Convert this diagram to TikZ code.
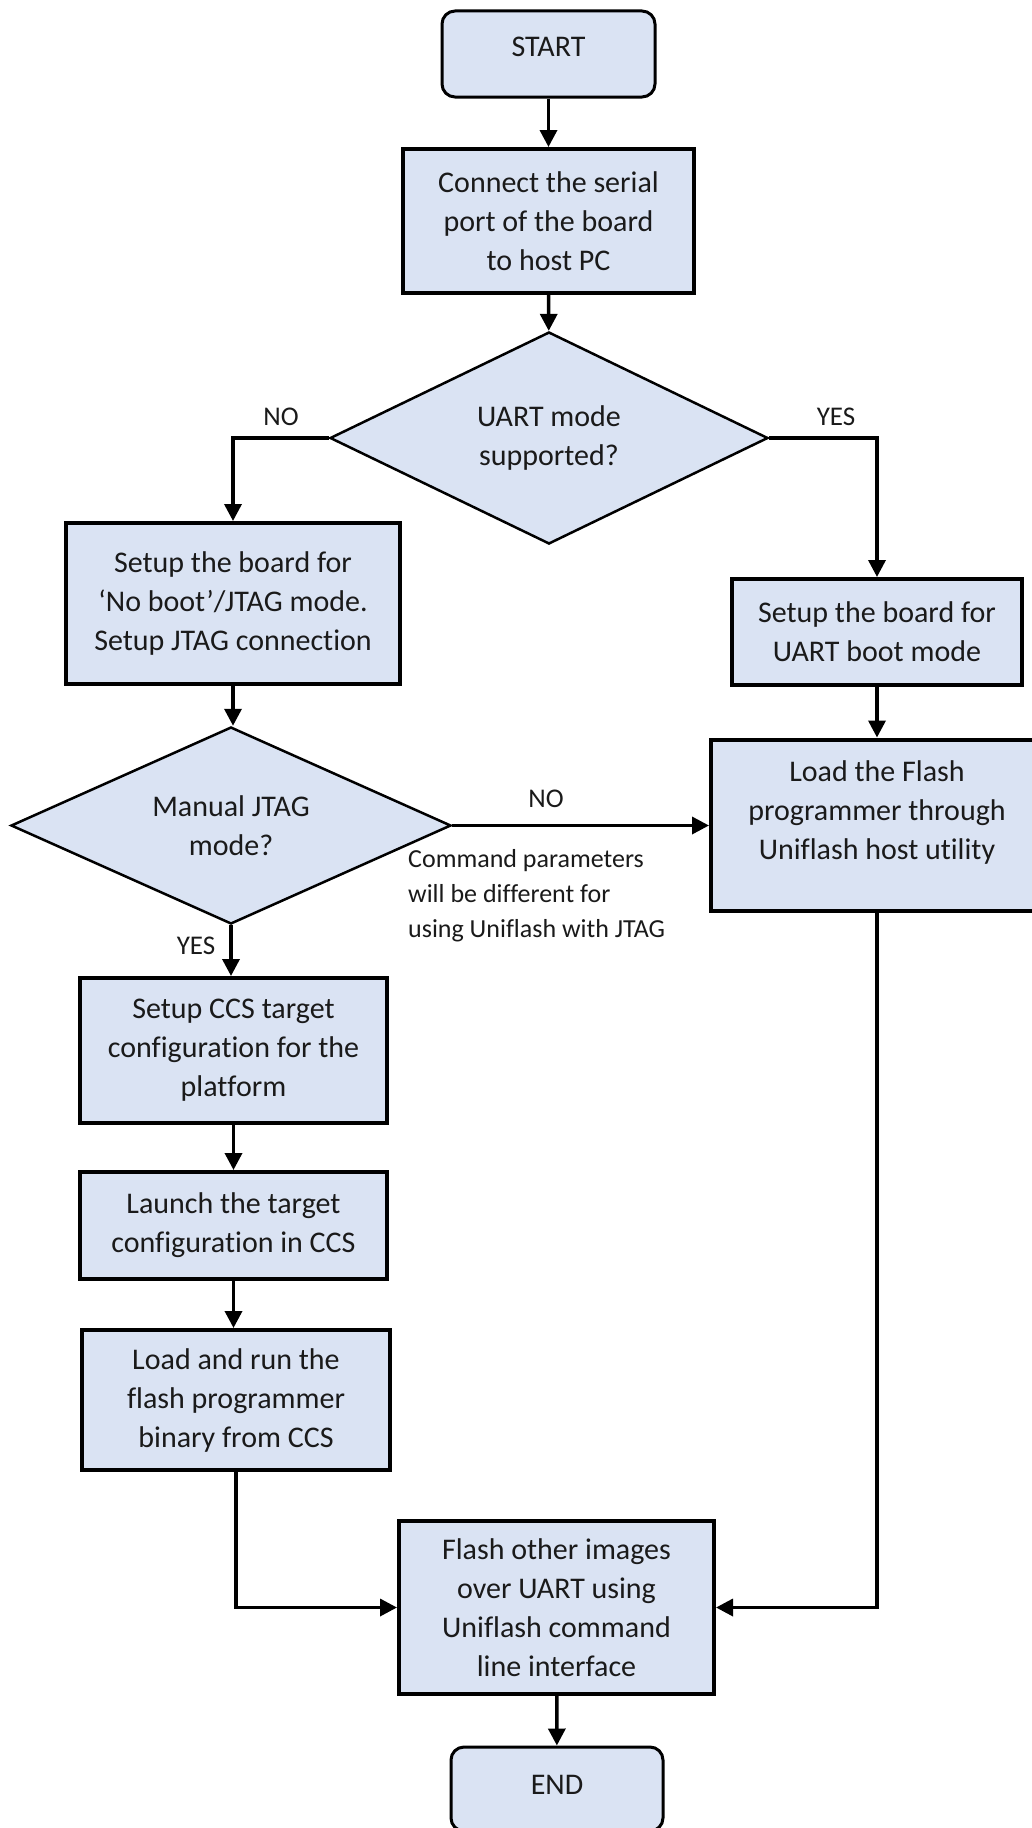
\documentclass[tikz,border=0pt]{standalone}
\usepackage{fontspec}
\setmainfont{Carlito}[Ligatures={NoCommon}]
\usetikzlibrary{shapes.geometric,arrows.meta}
\definecolor{boxfill}{HTML}{DAE3F3}
\definecolor{txt}{HTML}{1A1A1A}
\begin{document}
\begin{tikzpicture}[x=1pt,y=-1pt,
  base/.style={font=\fontsize{30}{39}\selectfont, text=txt, align=center, fill=boxfill, draw=black},
  procbox/.style={base, rectangle, line width=4pt, inner sep=0pt},
  termbox/.style={base, rectangle, rounded corners=13pt, line width=3pt, inner sep=0pt},
  decbox/.style={base, diamond, line width=2.5pt, inner sep=0pt, aspect=2},
  conn/.style={line width=3.5pt, -{Triangle[length=17pt,width=17pt]}},
  lbl/.style={font=\fontsize{27}{32}\selectfont, text=txt, inner sep=0pt}
]
\useasboundingbox (0,0) rectangle (1032,1828);
\fill[white] (0,0) rectangle (1032,1828);

\node[termbox, minimum width=213pt, minimum height=86pt] (start) at (548.5,54) {\raisebox{15pt}{START}};
\node[procbox, minimum width=291pt, minimum height=144pt] (connect) at (548.5,221) {Connect the serial\\port of the board\\to host PC};
\node[decbox, minimum width=438pt, minimum height=212pt] (uart) at (549,438) {UART mode\\supported?};
\node[procbox, minimum width=334pt, minimum height=161pt] (jtagsetup) at (233,603.5) {Setup the board for\\‘No boot’/JTAG mode.\\Setup JTAG connection};
\node[procbox, minimum width=290pt, minimum height=106pt] (uartboot) at (877,632) {Setup the board for\\UART boot mode};
\node[decbox, minimum width=440pt, minimum height=197pt] (manual) at (231,825.5) {Manual JTAG\\mode?};
\node[procbox, minimum width=332pt, minimum height=171pt] (loadflash) at (877,825) {\raisebox{0pt}[\height][\dimexpr\depth+24pt\relax]{\begin{tabular}{@{}c@{}}Load the Flash\\programmer through\\Uniflash host utility\end{tabular}}};
\node[lbl, anchor=north west, align=left, font=\fontsize{26}{35}\selectfont] (note) at (408,849) {Command parameters\\will be different for\\using Uniflash with JTAG};
\node[procbox, minimum width=307pt, minimum height=145pt] (ccs) at (233.5,1050.5) {Setup CCS target\\configuration for the\\platform};
\node[procbox, minimum width=307pt, minimum height=107pt] (launch) at (233.5,1225.5) {Launch the target\\configuration in CCS};
\node[procbox, minimum width=308pt, minimum height=140pt] (loadrun) at (236,1400) {Load and run the\\flash programmer\\binary from CCS};
\node[procbox, minimum width=315pt, minimum height=173pt] (flashimg) at (556.5,1607.5) {Flash other images\\over UART using\\Uniflash command\\line interface};
\node[termbox, minimum width=212pt, minimum height=84pt] (end) at (557,1789) {\raisebox{8pt}{END}};

\node[lbl] (no1) at (281,417) {NO};
\node[lbl] (yes1) at (836,417) {YES};
\node[lbl] (no2) at (546,799) {NO};
\node[lbl] (yes2) at (196,946) {YES};

\draw[conn] (start) -- (connect);
\draw[conn] (connect) -- (uart);
\draw[conn] (uart.west) -| (jtagsetup.north);
\draw[conn] (uart.east) -| (uartboot.north);
\draw[conn] (uartboot) -- (loadflash);
\draw[conn] (jtagsetup.south) -- (jtagsetup.south |- manual.north);
\draw[conn] (manual.east) -- (manual.east -| loadflash.west);
\draw[conn] (manual.south) -- (manual.south |- ccs.north);
\draw[conn] (ccs) -- (launch);
\draw[conn] (launch.south) -- (launch.south |- loadrun.north);
\draw[conn] (loadrun.south) |- (flashimg.west);
\draw[conn] (loadflash.south) |- (flashimg.east);
\draw[conn] (flashimg) -- (end);
\end{tikzpicture}
\end{document}
